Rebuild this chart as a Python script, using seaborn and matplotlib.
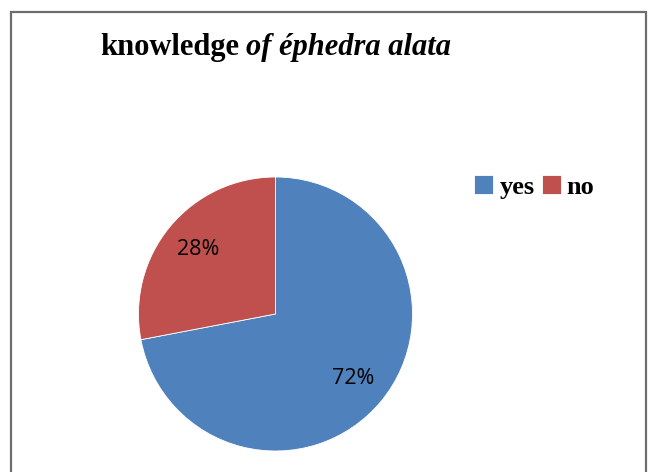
import matplotlib
matplotlib.use("Agg")
import matplotlib.pyplot as plt
import seaborn as sns
from matplotlib.patches import Rectangle

# Survey answers
categories = ["yes", "no"]
shares = [72, 28]
colors = ["#4F81BD", "#C0504D"]
title_plain = "knowledge"
title_italic = "of éphedra alata"

sns.set_theme(style="white")
plt.rcParams["font.family"] = ["DejaVu Sans"]
plt.rcParams["text.color"] = "black"

W, H = 651, 472
fig = plt.figure(figsize=(W / 100, H / 100), dpi=100)
fig.patch.set_facecolor("white")

# Outer chart frame (open at the bottom edge of the image)
fig.patches.append(Rectangle((11 / W, -0.05), (646 - 11) / W, 1.05 - 12 / H,
                             transform=fig.transFigure, fill=False,
                             edgecolor="#6e6e6e", linewidth=1.6, zorder=0))

# Pie axes: centre (275.5, 314) px, radius 137 px
cx, cy, r = 275.5, 314, 137
ax = fig.add_axes([(cx - r) / W, (H - cy - r) / H, 2 * r / W, 2 * r / H])
wedges, texts, autotexts = ax.pie(
    shares, colors=colors, startangle=90, counterclock=False,
    autopct=lambda p: f"{p:.0f}%", pctdistance=0.735,
    wedgeprops=dict(linewidth=0.6, edgecolor="white"),
    textprops=dict(fontsize=15.5, family="Open Sans", color="black"),
)
ax.set_xlim(-1, 1)
ax.set_ylim(-1, 1)
ax.set_aspect("equal")
ax.axis("off")

# Title: plain bold part followed by bold italic part
t1 = fig.text(100 / W, 1 - 55 / H, title_plain, ha="left", va="baseline",
              fontsize=22, fontweight="bold", family="Liberation Serif",
              color="black")
fig.canvas.draw()
bb = t1.get_window_extent()
fig.text((bb.x1 + 7) / W, 1 - 55 / H, title_italic, ha="left", va="baseline",
         fontsize=22, fontweight="bold", fontstyle="italic",
         family="Liberation Serif", color="black")

# Legend
leg = fig.legend(wedges, categories, loc="upper left",
                 bbox_to_anchor=(456 / W, 1 - 157 / H), ncol=2, frameon=False,
                 handlelength=0.72, handleheight=0.72, handletextpad=0.22,
                 columnspacing=0.28, borderpad=0.2,
                 prop=dict(family="Liberation Serif", weight="bold", size=19))
for t in leg.get_texts():
    t.set_color("black")

fig.savefig("out.png", dpi=100)
